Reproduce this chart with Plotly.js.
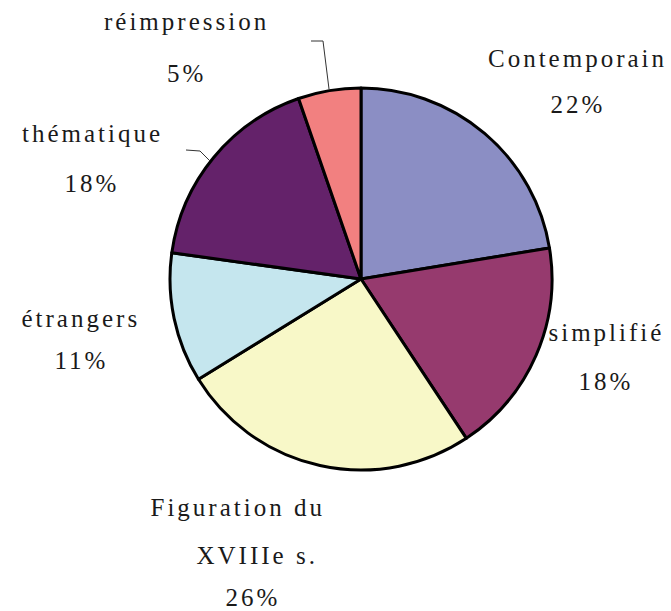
<!DOCTYPE html>
<html>
<head>
<meta charset="utf-8">
<script src="https://cdn.plot.ly/plotly-3.0.1.min.js"></script>
<style>
html,body{margin:0;padding:0;background:#fff;}
#chart .annotation-text{letter-spacing:3px;}
</style>
</head>
<body>
<div id="chart" style="width:671px;height:611px;"></div>
<script>
const categories = ["Contemporain", "simplifié", "Figuration du XVIIIe s.", "étrangers", "thématique", "réimpression"];
const values = [22.4, 18.3, 25.5, 11.0, 17.5, 5.3];
const pctLabels = ["22%", "18%", "26%", "11%", "18%", "5%"];
const colors = ["#8B8EC4", "#963A6E", "#F8F8C8", "#C5E6EE", "#64226A", "#F28080"];
const nameLines = [["Contemporain"], ["simplifié"], ["Figuration du", "XVIIIe s."], ["étrangers"], ["thématique"], ["réimpression"]];

(function () {
  const W = 671, H = 611;
  const cx = 361, cy = 279, R = 191;

  const labelPos = [
    [[578, 58], [578, 104]],
    [[606, 332], [606, 381]],
    [[238, 507], [257, 555], [253, 597]],
    [[81, 318], [81, 360]],
    [[92, 134], [92, 183]],
    [[187, 22], [187, 74]]
  ];

  const annotations = [];
  categories.forEach((c, i) => {
    const lines = nameLines[i].concat([pctLabels[i]]);
    lines.forEach((t, j) => {
      const p = labelPos[i][j];
      annotations.push({
        text: t, x: p[0] / W, y: 1 - p[1] / H, xref: "paper", yref: "paper",
        xanchor: "center", yanchor: "middle", showarrow: false,
        font: {family: "Times New Roman", size: 25}
      });
    });
  });

  function pathPx(pts) {
    return pts.map((p, k) => (k ? "L" : "M") + (p[0] / W) + "," + (1 - p[1] / H)).join(" ");
  }
  const shapes = [
    {type: "path", xref: "paper", yref: "paper", path: pathPx([[311, 41], [323, 41], [329, 89]]), line: {color: "#333", width: 1}},
    {type: "path", xref: "paper", yref: "paper", path: pathPx([[186, 150], [200, 151], [210, 161]]), line: {color: "#333", width: 1}}
  ];

  const trace = {
    type: "pie",
    labels: categories,
    values: values,
    sort: false,
    direction: "clockwise",
    rotation: 0,
    textinfo: "none",
    hoverinfo: "label+percent",
    marker: {colors: colors, line: {color: "#000", width: 3}},
    domain: {x: [(cx - R) / W, (cx + R) / W], y: [(H - cy - R) / H, (H - cy + R) / H]},
    showlegend: false
  };

  Plotly.newPlot("chart", [trace], {
    width: W, height: H,
    margin: {l: 0, r: 0, t: 0, b: 0},
    font: {family: "Times New Roman", color: "#1a1a1a"},
    showlegend: false,
    annotations: annotations,
    shapes: shapes
  }, {displayModeBar: false});
})();
</script>
</body>
</html>
